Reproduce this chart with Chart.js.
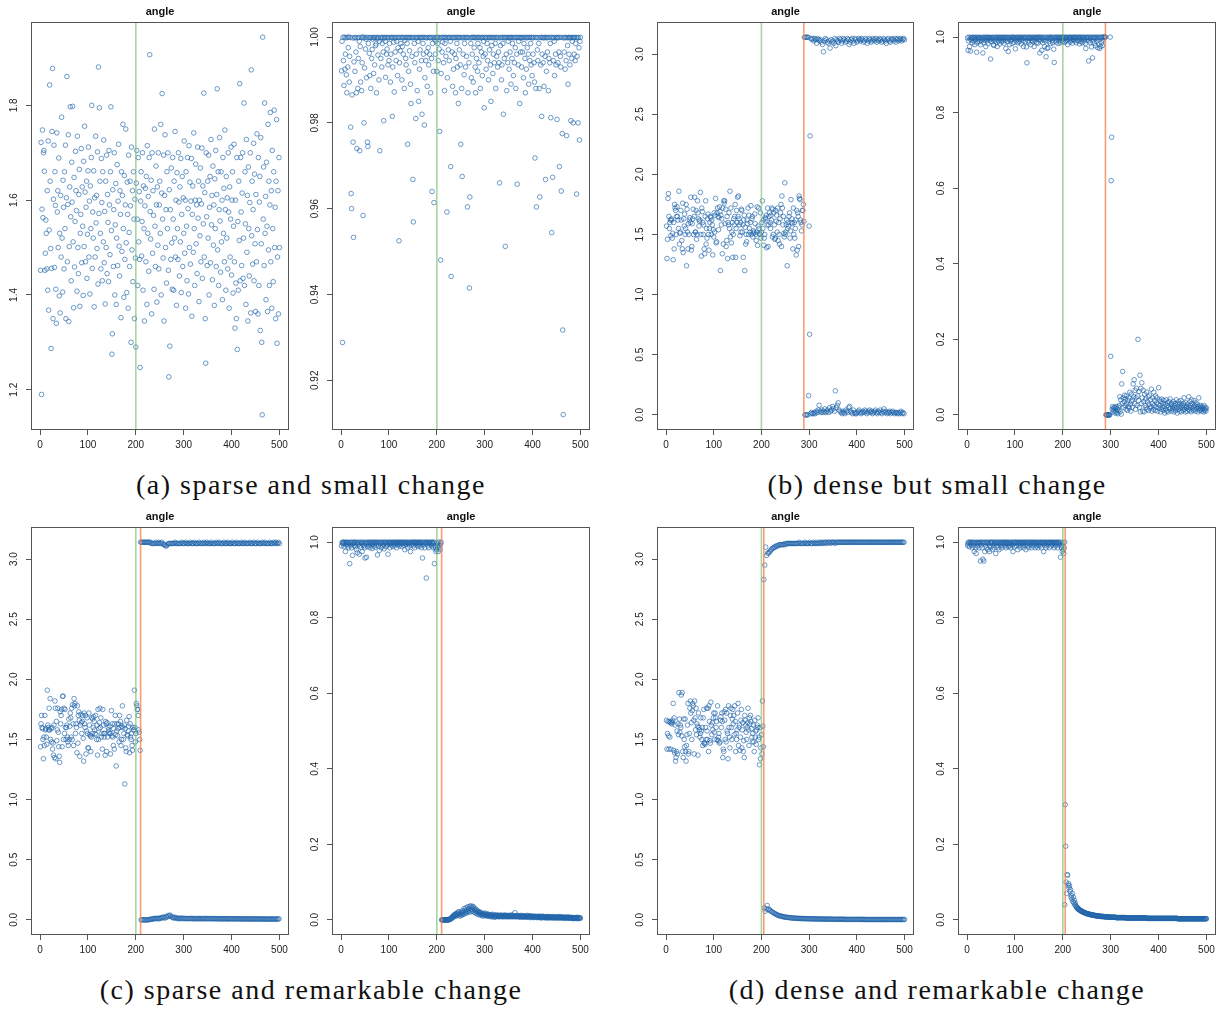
<!DOCTYPE html>
<html>
<head>
<meta charset="utf-8">
<script src="https://cdn.jsdelivr.net/npm/chart.js@4.4.0/dist/chart.umd.min.js"></script>
<style>
  body { margin: 0; width: 1216px; height: 1009px; overflow: hidden; background: #fff; position: relative; }
  canvas { position: absolute; }
  .cap { position: absolute; font-family: "Liberation Serif", "Times New Roman", serif; font-size: 28px;
         letter-spacing: 1.5px; color: #111; transform: translate(-50%, -50%); white-space: nowrap; }
</style>
</head>
<body>
<div class="cap" style="left:311px;top:485px">(a) sparse and small change</div>
<div class="cap" style="left:937px;top:485px">(b) dense but small change</div>
<div class="cap" style="left:311px;top:990px">(c) sparse and remarkable change</div>
<div class="cap" style="left:937px;top:990px">(d) dense and remarkable change</div>
<script>
// axes
const xRange = [-18.96, 519.96];
const xTicks = [0, 100, 200, 300, 400, 500];
const yRangeAngleA = [1.115, 1.976];
const yTicksAngleA = [1.2, 1.4, 1.6, 1.8];
const yRangeCosA = [0.9084, 1.0035];
const yTicksCosA = [0.92, 0.94, 0.96, 0.98, 1.00];
const yRangeAngle = [-0.1257, 3.267];
const yTicksAngle = [0, 0.5, 1.0, 1.5, 2.0, 2.5, 3.0];
const yRangeCos = [-0.04, 1.04];
const yTicksCos = [0, 0.2, 0.4, 0.6, 0.8, 1.0];

// true change point and detected change points
const trueChange = 200;
const detectedB = 289;
const detectedC = 210;
const detectedD = 205;

// (a) angle, x = 1..500, thousandths
const aAngle = [
1452,1722,1190,1581,1748,1563,1700,1705,1661,1452,1488,1558,1530,1455,1620,1410,1725,1368,1537,1843,1640,1498,1287,1456,1745,
1878,1350,1602,1716,1458,1660,1589,1412,1340,1742,1575,1620,1500,1689,1398,1530,1362,1610,1480,1775,1520,1406,1642,1585,1455,
1660,1540,1716,1350,1605,1861,1470,1591,1738,1344,1502,1628,1797,1565,1430,1680,1596,1798,1512,1373,1648,1459,1555,1703,1620,
1578,1408,1735,1500,1445,1612,1665,1376,1530,1570,1709,1468,1628,1545,1399,1682,1502,1756,1617,1470,1585,1640,1435,1528,1662,
1712,1480,1598,1402,1630,1540,1690,1800,1456,1575,1520,1662,1375,1605,1480,1735,1552,1610,1498,1702,1423,1881,1572,1795,1640,
1530,1455,1688,1595,1430,1660,1512,1727,1468,1576,1381,1640,1500,1695,1445,1612,1553,1428,1705,1590,1485,1660,1797,1536,1275,
1318,1622,1460,1580,1700,1400,1548,1635,1380,1520,1675,1462,1598,1718,1503,1440,1620,1570,1352,1660,1492,1610,1760,1540,1395,
1652,1475,1590,1750,1510,1405,1638,1570,1372,1695,1532,1460,1640,1588,1300,1712,1495,1620,1428,1660,1560,1350,1602,1478,1290,
1636,1705,1560,1420,1690,1512,1618,1475,1247,1598,1660,1482,1555,1700,1410,1630,1540,1345,1588,1625,1470,1650,1380,1715,1530,
1608,1450,1690,1907,1576,1518,1642,1360,1700,1488,1620,1568,1412,1750,1545,1460,1672,1590,1385,1628,1505,1700,1455,1590,1640,
1530,1760,1400,1615,1825,1560,1478,1695,1345,1610,1738,1500,1580,1425,1660,1540,1700,1452,1227,1622,1292,1580,1475,1668,1510,
1412,1690,1560,1410,1640,1520,1745,1480,1600,1378,1658,1540,1475,1700,1596,1440,1628,1512,1688,1405,1570,1650,1460,1605,1530,
1725,1488,1600,1372,1660,1545,1430,1690,1582,1402,1715,1500,1638,1465,1598,1688,1355,1570,1630,1490,1742,1540,1420,1600,1676,
1508,1590,1445,1712,1562,1640,1386,1600,1525,1668,1470,1592,1710,1435,1630,1550,1826,1480,1616,1350,1256,1700,1565,1462,1640,
1520,1695,1400,1585,1650,1468,1728,1548,1610,1432,1672,1505,1590,1378,1645,1540,1705,1460,1612,1835,1495,1660,1420,1580,1732,
1556,1448,1660,1512,1600,1390,1690,1530,1625,1470,1748,1580,1410,1650,1520,1605,1455,1700,1575,1372,1628,1480,1560,1712,1442,
1600,1660,1404,1545,1718,1470,1330,1600,1425,1350,1690,1285,1555,1410,1640,1515,1846,1430,1690,1575,1462,1615,1700,1435,1520,
1805,1420,1660,1550,1380,1728,1490,1610,1345,1670,1540,1440,1595,1700,1362,1875,1525,1640,1465,1580,1720,1430,1655,1508,1365,
1612,1470,1740,1538,1360,1690,1420,1596,1650,1325,1732,1508,1300,1147,1944,1560,1670,1462,1805,1530,1608,1390,1680,1545,1365,
1760,1495,1640,1420,1590,1785,1470,1620,1372,1705,1540,1428,1660,1790,1500,1585,1350,1640,1770,1298,1480,1620,1360,1690,1500
];

// (a) second angle panel, x = 1..500, ten-thousandths
const aCos = [
9921,9990,9288,9999,9945,9887,10000,9925,9960,9998,9912,9870,9999,9930,9975,10000,9895,9955,9999,9790,9635,9600,9865,9998,9755,
9533,9942,9998,9920,9999,9965,9870,9740,9998,9880,9950,9999,9990,9735,9978,9895,9999,9875,9940,10000,9584,9998,9800,9928,9999,
9972,9995,9905,9999,9755,9745,9985,9999,9962,9910,9998,9880,9999,9950,9971,9995,9999,9915,9998,9935,9999,9980,9984,9870,9999,
9996,9958,9999,9900,9990,9735,9998,9950,9999,9930,9985,9999,9965,9805,9997,9999,9990,9906,9999,9960,9972,9999,9935,9998,9945,
9985,9999,9895,9960,9999,9998,9815,9930,9999,9988,9872,9999,9965,9998,9945,9990,9999,9910,9975,9999,9525,9940,9999,9968,9985,
9999,9900,9978,9999,9960,9998,9880,9992,9999,9950,9935,9999,9985,9750,9999,9920,9998,9968,9999,9890,9845,9999,9955,9998,9668,
9569,9999,9985,9940,9999,9810,9960,9998,9875,9999,9990,9850,9999,9925,9970,9998,9999,9945,9820,9999,9985,9960,9999,9795,9905,
9999,9945,9998,9965,9885,9999,9975,9935,9999,9960,9998,9870,9999,9950,9640,9985,9999,9920,9614,9995,9999,9960,9990,9999,9920,
9999,9985,9945,9999,9972,9780,9998,9480,9915,9999,9965,9988,9999,9940,9999,9875,9985,9999,9955,9999,9592,9905,9998,9970,9999,
9945,9999,9990,9698,9442,9999,9965,9885,9999,9925,9998,9960,9999,9870,9950,9999,9985,9930,9999,9845,9998,9970,9999,9935,9750,
9999,9880,9675,9998,9960,9999,9912,9985,9999,9930,9998,9955,9999,9604,9870,9999,9940,9415,9627,9998,9985,9905,9999,9960,9999,
9895,9999,9975,9999,9930,9870,9998,9950,9999,9920,9985,9999,9940,9999,9975,9880,9998,9965,9999,9910,9999,9955,9990,9835,9999,
9960,9998,9925,9999,9985,9945,9999,9900,9998,9970,9999,9935,9850,9999,9980,9999,9915,9960,9998,9940,9999,9985,9880,9999,9955,
9998,9930,9999,9965,9940,9660,9998,9980,9999,9900,9935,9999,9985,9820,9999,9950,9998,9512,9999,9960,9875,9999,9940,9990,9999,
9925,9998,9965,9999,9890,9999,9950,9985,9999,9910,9998,9940,9999,9975,9880,9999,9960,9657,9999,9935,9990,9999,9845,9998,9965,
9999,9930,9998,9965,9999,9905,9985,9999,9950,9870,9999,9925,9998,9975,9999,9960,9890,9999,9945,9999,9985,9935,9999,9910,9998,
9960,9999,9940,9895,9718,9999,9880,9604,9999,9970,9945,9998,9985,9880,9627,9999,9935,9999,9815,9960,9999,9940,9998,9885,9999,
9955,9668,9999,9920,9998,9965,9999,9875,9950,9999,9940,9985,9812,9999,9544,9999,9673,9945,9998,9990,9910,9999,9960,9935,9999,
9808,9998,9940,9999,9965,9698,9999,9955,9930,9641,9999,9775,9317,9120,9998,9965,9999,9925,9999,9945,9770,9998,9980,9890,9999,
9960,9999,9935,9998,9805,9999,9950,9990,9999,9800,9998,9960,9999,9945,9985,9999,9634,9955,9998,9800,9999,9975,9760,9990,9999
];

// (b) angle: before change x = 1..289, hundredths
const bAngle = [
157,130,146,180,184,165,155,160,162,149,163,162,147,151,129,160,138,175,172,170,150,165,173,165,162,
155,186,142,151,152,170,162,145,138,176,135,163,157,167,150,155,175,124,171,152,138,159,150,162,164,
160,181,137,140,159,163,171,150,165,181,152,152,170,146,150,178,168,163,157,161,162,185,150,132,172,
169,160,150,158,138,134,165,178,142,155,147,163,167,150,137,155,160,165,164,150,162,158,133,154,148,
168,152,166,180,143,144,168,172,165,154,164,173,169,120,166,158,163,134,172,142,178,176,178,159,171,
140,145,165,130,160,158,168,155,186,148,172,143,152,160,131,150,163,158,165,175,131,155,170,160,181,
165,182,163,158,149,160,152,171,170,152,158,131,162,166,120,156,142,150,144,162,159,172,150,166,155,
152,160,174,150,163,165,148,153,151,152,167,159,150,145,152,173,141,157,172,155,151,150,168,147,152,
160,178,155,162,141,147,150,164,163,166,139,158,172,140,158,165,168,160,155,166,162,172,148,171,150,
168,158,146,147,170,161,166,152,172,145,160,150,142,163,168,175,140,182,172,158,165,151,148,193,150,
152,158,162,124,155,160,157,165,168,147,153,179,160,163,159,138,172,150,160,147,155,162,133,170,137,
168,165,140,182,180,179,162,160,153,158,170,170,175,161
];
// (b) angle after change, upper band x = 290,292..500, hundredths
const bAngleHi = [
314,314,314,314,314,157,232,313,312,313,311,313,312,309,313,312,311,312,310,308,
302,311,313,312,310,309,311,305,312,310,311,309,313,307,312,311,310,313,312,309,
311,313,312,310,311,313,312,308,310,312,313,311,309,313,312,310,311,313,312,311,
313,312,310,311,313,312,309,311,313,312,310,311,313,312,311,313,310,312,311,313,
312,310,311,313,312,311,309,312,313,311,310,312,313,312,311,313,310,312,313,311,
312,313,311,312,313,312
];
// (b) angle after change, lower band x = 291,293..499, hundredths
const bAngleLo = [
0,0,0,0,16,67,1,2,1,1,2,1,3,2,4,8,3,2,4,2,
3,5,2,3,4,2,6,3,4,7,5,3,20,6,8,10,4,3,2,1,
3,2,1,4,3,2,6,7,3,2,1,4,2,1,1,2,3,4,2,1,
2,3,2,4,3,1,2,3,4,2,3,1,2,3,4,2,1,3,2,4,
2,1,3,5,2,3,1,2,2,3,1,2,3,2,1,2,2,1,2,1,
2,3,1,2,1
];
// (b) second panel before change x = 1..289, thousandths
const bCos = [
998,965,990,1000,975,995,963,999,992,998,985,1000,996,990,999,980,998,994,1000,960,985,999,993,998,988,
1000,996,980,999,990,995,998,958,1000,985,992,999,997,975,1000,990,996,999,983,998,1000,992,999,942,996,
988,999,995,1000,980,978,998,990,999,994,1000,986,975,999,997,990,1000,982,998,995,999,988,1000,996,990,
999,984,998,1000,992,970,999,996,988,1000,962,995,999,980,998,990,1000,994,983,999,997,1000,986,995,999,
969,998,990,1000,995,985,999,997,988,1000,993,998,982,999,995,1000,990,975,998,996,1000,988,999,974,932,
998,1000,990,985,999,996,1000,980,997,992,999,988,1000,995,975,999,990,998,1000,985,996,999,984,1000,993,
998,958,1000,990,999,965,996,985,1000,992,998,975,999,990,948,1000,970,996,972,999,988,1000,995,983,999,
996,1000,990,985,999,968,933,998,1000,992,987,999,995,1000,983,998,990,999,1000,985,996,999,992,1000,988,
999,995,1000,986,998,990,999,1000,992,980,998,995,999,1000,987,996,999,991,1000,984,998,993,999,1000,990,
997,999,985,1000,992,998,990,999,1000,982,996,999,988,1000,994,985,998,999,1000,990,996,983,970,999,1000,
992,998,999,937,990,1000,985,996,999,974,1000,945,990,998,999,984,1000,977,996,999,990,1000,972,995,999,
980,970,1000,975,998,985,1000,978,992,1000,998,1000,1000,1000
];
// (b) second panel after change x = 290..500, thousandths
const bCosPost = [
0,0,0,0,0,0,0,0,0,1000,155,620,735,15,22,8,18,12,20,5,
18,10,22,6,15,3,20,12,25,48,8,40,2,82,30,115,45,20,35,52,
25,42,15,50,30,12,38,22,45,18,60,28,10,55,35,20,40,82,48,93,
30,65,15,45,70,25,50,200,38,62,20,105,8,70,30,85,45,10,65,35,
8,55,25,42,20,60,15,35,48,12,28,52,18,40,22,68,10,30,45,15,
60,25,38,12,50,20,32,45,10,28,72,18,40,25,8,35,15,42,20,30,
12,38,22,5,28,15,40,10,25,32,8,20,35,15,42,18,28,10,30,22,
15,35,8,25,18,30,12,40,20,5,28,15,35,22,10,30,18,38,8,25,
20,12,30,45,15,25,8,32,18,22,10,28,15,48,20,12,35,25,8,40,
18,30,12,22,38,15,25,10,32,20,15,28,8,22,45,18,12,25,15,20,
10,22,15,18,8,25,12,20,15,10,18
];

// (c) angle before change x = 1..209, hundredths
const cAngle = [
144,163,170,160,159,150,134,152,145,170,158,159,152,146,191,162,160,158,176,158,184,150,159,148,160,
142,147,137,162,135,182,176,134,165,149,158,176,156,144,136,131,173,163,170,175,144,186,186,150,176,
155,175,160,150,160,162,152,148,145,167,150,161,172,168,152,176,150,179,163,145,184,178,180,155,163,
160,139,178,147,170,173,166,136,162,171,164,155,165,170,151,132,172,163,160,170,138,157,168,155,143,
143,172,162,154,153,140,152,168,155,167,160,169,165,158,155,170,154,150,162,137,175,150,159,164,176,
160,168,152,155,142,175,162,155,152,155,137,165,163,140,164,152,160,158,156,155,161,138,155,174,153,
163,152,145,159,142,163,170,154,128,157,163,153,159,163,148,170,160,165,145,150,161,178,160,150,155,
162,113,159,143,140,166,154,153,157,161,169,139,163,152,150,155,145,141,160,158,158,191,160,148,155,
180,178,175,175,170,158,156,150,141
];
// (c) angle after change, upper band x = 210,212..500, hundredths
const cAngleHi = [
314,314,314,314,314,314,314,314,314,314,314,313,313,313,313,313,314,313,313,314,
313,313,314,313,312,312,311,311,312,313,313,313,313,313,313,313,314,313,313,313,
313,313,313,314,313,313,313,314,313,313,313,313,314,313,313,313,314,313,313,313,
313,314,313,313,313,313,314,313,313,314,313,313,313,313,314,313,313,313,313,314,
313,313,314,313,313,313,313,314,313,313,313,314,313,313,313,313,314,313,313,313,
314,313,313,313,313,314,313,313,313,314,313,313,313,313,314,313,313,313,314,313,
313,313,314,313,313,313,313,314,313,313,314,313,313,313,313,314,313,313,313,314,
313,314,313,313,314,313
];
// (c) angle after change, lower band x = 211,213..499, thousandths
const cAngleLo = [
0,0,0,0,0,0,0,0,2,3,6,4,8,10,12,9,14,11,8,15,
12,18,16,24,20,15,28,22,36,30,40,32,25,20,15,22,18,12,16,10,
12,15,10,14,12,9,13,11,10,12,9,11,13,10,12,8,11,10,9,12,
10,11,8,12,10,9,11,13,8,10,12,9,11,10,8,12,9,10,11,8,
10,9,11,8,10,7,9,11,8,10,9,7,10,8,9,11,7,9,8,10,
8,9,7,10,8,9,6,8,10,7,9,8,6,9,7,8,10,6,8,7,
9,7,8,6,9,7,8,6,7,9,6,8,7,5,8,6,7,9,6,7,
6,8,5,7,9
];
// (c) second panel before change x = 1..209, thousandths
const cCos = [
990,998,1000,995,999,988,1000,996,975,999,993,1000,998,990,999,985,997,943,1000,992,999,985,998,965,1000,
996,990,999,1000,988,995,980,999,972,1000,994,998,968,990,999,1000,986,997,975,999,993,1000,990,985,958,
999,996,960,1000,988,997,999,992,1000,985,996,999,990,1000,983,998,995,1000,990,999,986,1000,997,992,999,
966,1000,990,998,978,999,995,1000,985,997,999,990,1000,994,982,998,999,1000,988,996,999,992,968,1000,995,
999,985,998,1000,992,997,999,988,1000,995,999,990,998,1000,996,985,999,1000,993,997,1000,990,998,999,995,
1000,988,999,996,1000,992,998,980,999,1000,994,997,999,985,1000,996,999,990,998,975,1000,993,999,996,1000,
990,998,1000,985,999,996,1000,992,998,999,988,1000,995,999,990,1000,997,985,999,958,1000,992,998,999,985,
1000,996,905,999,1000,990,998,985,999,1000,994,997,999,990,1000,996,999,985,1000,943,990,985,975,980,998,
990,995,975,1000,985,990,980,995,1000
];
// (c) second panel after change x = 210..500, thousandths
const cCosPost = [
0,0,0,0,0,0,0,0,0,0,0,0,0,0,0,0,1,2,3,2,
5,4,8,6,10,12,8,14,10,15,12,18,11,16,20,13,22,15,10,18,
14,20,12,24,18,15,22,30,16,25,20,32,18,28,22,35,24,30,20,36,
26,37,22,33,28,36,24,34,20,30,25,18,28,22,16,24,20,14,22,18,
15,20,12,18,14,16,10,17,13,15,12,18,11,14,16,10,13,12,15,9,
12,14,10,13,8,12,15,9,11,13,7,10,12,8,11,14,9,10,12,8,
11,9,12,10,13,8,11,9,12,10,8,11,13,9,10,12,8,11,9,10,
12,8,10,9,11,13,8,10,12,9,11,8,10,19,9,11,8,10,12,9,
10,8,11,9,7,10,12,8,9,11,7,10,8,9,11,8,10,7,9,12,
8,10,7,9,11,8,6,10,9,7,10,8,9,6,8,10,7,9,8,6,
9,7,8,10,6,8,9,7,5,8,10,6,7,9,8,6,7,8,5,9,
7,6,8,5,9,7,6,8,7,5,8,6,7,9,5,7,6,8,6,5,
7,8,6,5,7,9,6,5,8,6,7,5,6,8,5,7,6,4,7,6,
5,7,6,4,8,5,6,7,5,4,6,5,7,4,6,5,3,6,5,4,
6,5,4,7,5,3,6,4,5,6,4
];

// (d) angle before change x = 1..204, hundredths
const dAngle = [
166,142,155,165,153,142,165,152,164,142,165,163,164,166,180,141,168,139,162,132,135,140,157,138,163,
154,189,167,156,162,160,187,153,189,140,135,167,150,144,167,140,132,145,154,162,180,138,140,155,176,
182,172,164,150,174,180,178,166,138,182,168,158,176,154,163,161,137,172,160,158,152,155,168,157,150,
160,145,168,175,147,147,146,160,150,176,157,150,176,140,178,165,149,147,181,162,154,164,158,168,172,
156,150,172,168,160,165,150,178,149,152,155,147,148,166,169,160,172,165,135,142,140,173,166,150,175,
148,172,157,155,134,178,160,152,143,170,176,160,150,167,175,163,170,154,178,165,140,155,150,158,172,
180,145,160,162,141,152,166,175,143,158,164,140,149,135,170,166,162,156,150,160,164,176,158,145,168,
163,170,165,159,152,148,155,162,148,140,166,152,157,146,158,162,160,168,150,152,129,160,134,143,154,
138,182,161,144
];
// (d) angle after change, upper band x = 205,207..499, hundredths
const dAngleHi = [
283,295,310,303,305,305,306,307,308,309,309,310,310,311,311,311,312,312,312,312,
312,312,313,312,313,313,313,313,313,313,313,313,313,313,313,313,313,314,313,313,
313,313,313,314,313,313,313,313,314,313,313,313,314,313,313,314,313,313,314,313,
314,313,314,313,314,314,313,314,314,314,313,314,314,314,314,313,314,314,314,314,
314,314,314,314,314,314,314,314,314,314,314,314,314,314,314,314,314,314,314,314,
314,314,314,314,314,314,314,314,314,314,314,314,314,314,314,314,314,314,314,314,
314,314,314,314,314,314,314,314,314,314,314,314,314,314,314,314,314,314,314,314,
314,314,314,314,314,314,314,314
];
// (d) angle after change, lower band x = 206,208..500, thousandths
const dAngleLo = [
100,72,92,120,85,90,80,72,68,62,58,52,48,44,40,37,34,32,30,28,
26,24,23,22,21,20,19,18,17,16,15,15,14,14,13,13,12,12,12,11,
11,11,10,10,10,10,9,9,9,9,9,8,8,8,8,8,8,7,7,7,
7,7,7,7,6,6,6,6,6,6,6,6,5,5,5,5,5,5,5,5,
5,5,5,5,5,4,4,4,4,4,4,4,4,4,4,4,4,4,4,4,
4,4,4,4,4,4,3,3,3,3,3,3,3,3,3,3,3,3,3,3,
3,3,3,3,3,3,3,3,3,3,3,3,3,3,3,3,3,3,3,3,
3,3,3,3,3,3,3,3
];
// (d) second panel before change x = 1..204, thousandths
const dCos = [
995,990,1000,998,988,999,996,1000,992,998,985,999,1000,990,975,997,999,985,970,998,1000,990,996,999,985,
998,1000,950,992,999,985,1000,955,997,950,999,975,1000,990,998,985,999,980,1000,996,990,975,999,1000,988,
997,999,980,1000,992,985,999,996,1000,970,998,990,999,1000,985,996,980,999,1000,992,997,985,999,1000,990,
998,996,1000,990,999,985,1000,997,995,999,988,1000,996,990,999,985,998,1000,992,995,975,999,1000,988,997,
999,1000,990,996,999,980,1000,998,992,999,985,1000,996,999,990,998,1000,985,997,999,992,1000,980,996,999,
1000,990,998,985,999,1000,992,996,999,985,1000,998,990,999,995,1000,985,997,999,990,1000,996,985,999,992,
998,1000,990,999,985,1000,996,998,999,975,1000,992,997,999,985,1000,990,998,996,999,1000,985,997,999,990,
1000,996,999,992,998,1000,985,997,999,990,998,1000,996,985,999,1000,992,998,995,960,1000,985,990,975,998,
980,970,985,1000
];
// (d) second panel after change x = 204..500, thousandths
const dCosPost = [
40,305,195,100,70,120,118,92,96,85,90,75,80,60,65,55,70,48,60,45,
52,40,45,38,35,32,34,30,28,30,27,26,25,24,25,23,22,22,21,20,
20,19,19,18,18,17,17,16,16,16,15,15,15,14,14,14,13,13,13,13,
12,12,12,12,11,11,11,11,11,10,10,10,10,10,10,9,9,9,9,9,
9,9,9,8,8,8,8,8,8,8,8,8,8,7,7,7,7,7,7,7,
7,7,7,7,7,7,7,6,6,6,6,6,6,6,6,6,6,6,6,6,
6,6,6,6,6,6,6,6,5,5,5,5,5,5,5,5,5,5,5,5,
5,5,5,5,5,5,5,5,5,5,5,5,5,5,5,5,5,5,5,5,
5,5,5,5,5,5,5,5,5,5,5,5,4,4,4,4,4,4,4,4,
4,4,4,4,4,4,4,4,4,4,4,4,4,4,4,4,4,4,4,4,
4,4,4,4,4,4,4,4,4,4,4,4,4,4,4,4,4,4,4,4,
4,4,4,4,4,4,4,4,4,4,4,4,4,4,4,4,3,3,3,3,
3,3,3,3,3,3,3,3,3,3,3,3,3,3,3,3,3,3,3,3,
3,3,3,3,3,3,3,3,3,3,3,3,3,3,3,3,3,3,3,3,
3,3,3,3,3,3,3,3,3,3,3,3,3,3,3,3,3
];

const pointColor = 'rgba(33,100,170,0.72)';
const greenLine = 'rgba(110,185,100,0.6)';
const orangeLine = 'rgba(245,125,70,0.75)';

// box = [left, top, width, height] of the plot frame on the page
const panels = [
  { box: [31, 22, 258, 408], yr: yRangeAngleA, yt: yTicksAngleA, dec: 1, cps: [],
    series: [[1, 1, 1000, aAngle]] },
  { box: [332, 22, 258, 408], yr: yRangeCosA, yt: yTicksCosA, dec: 2, cps: [],
    series: [[1, 1, 10000, aCos]] },
  { box: [657, 22, 257, 408], yr: yRangeAngle, yt: yTicksAngle, dec: 1, cps: [detectedB],
    series: [[1, 1, 100, bAngle], [290, 2, 100, bAngleHi], [291, 2, 100, bAngleLo]] },
  { box: [958, 22, 258, 408], yr: yRangeCos, yt: yTicksCos, dec: 1, cps: [detectedB],
    series: [[1, 1, 1000, bCos], [290, 1, 1000, bCosPost]] },
  { box: [31, 527, 258, 408], yr: yRangeAngle, yt: yTicksAngle, dec: 1, cps: [detectedC],
    series: [[1, 1, 100, cAngle], [210, 2, 100, cAngleHi], [211, 2, 1000, cAngleLo]] },
  { box: [332, 527, 258, 408], yr: yRangeCos, yt: yTicksCos, dec: 1, cps: [detectedC],
    series: [[1, 1, 1000, cCos], [210, 1, 1000, cCosPost]] },
  { box: [657, 527, 257, 408], yr: yRangeAngle, yt: yTicksAngle, dec: 1, cps: [detectedD],
    series: [[1, 1, 100, dAngle], [205, 2, 100, dAngleHi], [206, 2, 1000, dAngleLo]] },
  { box: [958, 527, 258, 408], yr: yRangeCos, yt: yTicksCos, dec: 1, cps: [detectedD],
    series: [[1, 1, 1000, dCos], [204, 1, 1000, dCosPost]] }
];

const LEFT = 40, TOP = 22, BOTTOM = 30, RIGHT = 3;

// frame, rotated y labels and the "angle" title, R style
const framePlugin = {
  id: 'frame',
  afterDraw(chart, args, opts) {
    const { ctx, chartArea: a } = chart;
    const y = chart.scales.y;
    ctx.save();
    ctx.strokeStyle = '#555';
    ctx.lineWidth = 1;
    ctx.strokeRect(Math.round(a.left) + 0.5, Math.round(a.top) + 0.5,
                   Math.round(a.right - a.left) - 1, Math.round(a.bottom - a.top) - 1);
    ctx.fillStyle = '#222';
    ctx.font = '10px "Liberation Sans", Arial, sans-serif';
    ctx.textAlign = 'center';
    ctx.textBaseline = 'middle';
    opts.ticks.forEach(t => {
      ctx.save();
      ctx.translate(a.left - 16.5, y.getPixelForValue(t));
      ctx.rotate(-Math.PI / 2);
      ctx.fillText(t.toFixed(opts.dec), 0, 0);
      ctx.restore();
    });
    ctx.font = 'bold 11px "Liberation Sans", Arial, sans-serif';
    ctx.fillStyle = '#111';
    ctx.fillText('angle', (a.left + a.right) / 2, a.top - 10);
    ctx.restore();
  }
};

panels.forEach(p => {
  const [bl, bt, bw, bh] = p.box;
  const canvas = document.createElement('canvas');
  canvas.width = LEFT + bw + RIGHT;
  canvas.height = TOP + bh + BOTTOM;
  canvas.style.left = (bl - LEFT) + 'px';
  canvas.style.top = (bt - TOP) + 'px';
  document.body.appendChild(canvas);

  const datasets = [];
  const vlines = [[trueChange, greenLine]].concat(p.cps.map(c => [c, orangeLine]));
  vlines.forEach(([x, col]) => {
    datasets.push({
      data: [{ x: x, y: p.yr[0] }, { x: x, y: p.yr[1] }],
      showLine: true, pointRadius: 0, borderColor: col, borderWidth: 1.6
    });
  });
  p.series.forEach(([start, step, div, vals]) => {
    datasets.push({
      data: vals.map((v, i) => ({ x: start + i * step, y: v / div })),
      pointRadius: 2.3, borderWidth: 0.9,
      borderColor: pointColor, backgroundColor: 'rgba(0,0,0,0)'
    });
  });

  new Chart(canvas, {
    type: 'scatter',
    data: { datasets },
    options: {
      responsive: false,
      animation: false,
      devicePixelRatio: 1,
      events: [],
      layout: { autoPadding: false, padding: { top: TOP, left: 0, right: RIGHT, bottom: 0 } },
      plugins: {
        legend: { display: false },
        tooltip: { enabled: false },
        frame: { ticks: p.yt, dec: p.dec }
      },
      scales: {
        x: {
          type: 'linear', min: xRange[0], max: xRange[1],
          afterBuildTicks: s => { s.ticks = xTicks.map(v => ({ value: v })); },
          afterFit: s => { s.height = BOTTOM; s.paddingLeft = 0; s.paddingRight = 0; },
          grid: { drawOnChartArea: false, drawTicks: true, tickLength: 5, color: '#555' },
          border: { display: false },
          ticks: { padding: 4, color: '#222', maxRotation: 0, autoSkip: false,
                   font: { family: '"Liberation Sans", Arial, sans-serif', size: 10 },
                   callback: v => String(v) }
        },
        y: {
          type: 'linear', min: p.yr[0], max: p.yr[1],
          afterBuildTicks: s => { s.ticks = p.yt.map(v => ({ value: v })); },
          afterFit: s => { s.width = LEFT; s.paddingTop = 0; s.paddingBottom = 0; },
          grid: { drawOnChartArea: false, drawTicks: true, tickLength: 5, color: '#555' },
          border: { display: false },
          ticks: { display: false }
        }
      }
    },
    plugins: [framePlugin]
  });
});
</script>
</body>
</html>
